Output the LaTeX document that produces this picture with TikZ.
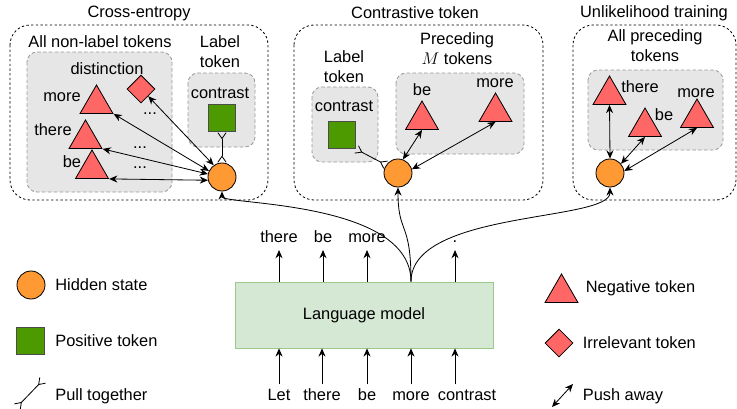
\documentclass[tikz,border=0pt]{standalone}
\usepackage{fontspec}
\setmainfont{Liberation Sans}
\usetikzlibrary{arrows.meta,shapes.geometric,calc}
\definecolor{hidorange}{HTML}{FF9933}
\definecolor{negred}{HTML}{FF6666}
\definecolor{posgreen}{HTML}{4D9900}
\definecolor{boxgray}{HTML}{E6E6E6}
\definecolor{lmgreen}{HTML}{D5E8D4}
\definecolor{lmline}{HTML}{9AC98A}

\begin{document}
\begin{tikzpicture}[x=0.03cm, y=-0.03cm, >={Stealth[length=7pt,width=6pt]},
    font=\fontsize{14}{17}\selectfont, line width=0.7pt,
    hidstate/.style={circle, draw, fill=hidorange, minimum size=0.84cm, inner sep=0pt},
    postok/.style={rectangle, draw=black!70, fill=posgreen, minimum size=0.83cm, inner sep=0pt},
    negtok/.style={regular polygon, regular polygon sides=3, draw, fill=negred, minimum size=1.14cm, inner sep=0pt},
    irrtok/.style={diamond, draw, fill=negred, minimum size=0.84cm, inner sep=0pt},
    outerbox/.style={draw, dash pattern=on 2pt off 2pt, rounded corners=0.6cm},
    graybox/.style={draw=black!40, fill=boxgray, dash pattern=on 3pt off 2pt, rounded corners=0.3cm},
    word/.style={text height=10pt, text depth=3pt},
    pushline/.style={<->},
    pullline/.style={{Straight Barb[reversed,length=5pt,width=7pt]}-{Straight Barb[reversed,length=5pt,width=7pt]}}]
\useasboundingbox (0,0) rectangle (737,408);

% three loss panels
\draw[outerbox](10,25) rectangle (268,200);
\draw[outerbox](294,25) rectangle (543,200);
\draw[outerbox](573,25) rectangle (736,200);
\draw[graybox](27,52) rectangle (172,192);
\draw[graybox](188,73) rectangle (255,147);
\draw[graybox](312,87) rectangle (378,162);
\draw[graybox](396,73) rectangle (524,154);
\draw[graybox](588,70) rectangle (723,150);

\node (ce) at (139,13) {Cross-entropy};
\node (ct) at (415,13) {Contrastive token};
\node (ul) at (654,13) {Unlikelihood training};

% cross-entropy
\node at (100,42) {All non-label tokens};
\node[align=center] at (220,52) {Label\\token};
\node at (220,93) {contrast};
\node[postok] (s1) at (222,118) {};
\node[hidstate] (c1) at (222,177) {};
\node[irrtok] (d1) at (141,89) {};
\node[negtok] (m1) at (96.5,104) {};
\node[negtok] (t1) at (85.5,139) {};
\node[negtok] (b1) at (92,169) {};
\node at (107,69) {distinction};
\node at (62,97) {more};
\node at (53,130) {there};
\node at (72,162) {be};
\node at (150,114) {...};
\node at (140,148) {...};
\node at (140,168) {...};
\draw[pullline](s1.south)--(c1.north);
\draw[pushline](d1.south east)--(c1.125);
\draw[pushline](m1.corner 3)--(c1.155);
\draw[pushline](t1.corner 3)--(c1.168);
\draw[pushline](b1.corner 3)--(c1.193);

% contrastive token
\node[align=center] at (344,67) {Label\\token};
\node at (344,106) {contrast};
\node[postok] (s2) at (342,135) {};
\node[align=center] at (457,49) {Preceding\\$M$ tokens};
\node[negtok] (b2) at (422,120) {};
\node[negtok] (m2) at (495.5,112) {};
\node at (422,90) {be};
\node at (495,83) {more};
\node[hidstate] (c2) at (398,173) {};
\draw[pullline](s2.south east)--(c2.146);
\draw[pushline](b2.south)--(c2.70);
\draw[pushline](m2.south)--(c2.15);

% unlikelihood training
\node[align=center] at (655,46) {All preceding\\tokens};
\node[negtok] (t3) at (609.5,95) {};
\node[negtok] (b3) at (645,127) {};
\node[negtok] (m3) at (697,118) {};
\node at (640,87) {there};
\node at (664,115) {be};
\node at (696,93) {more};
\node[hidstate] (c3) at (610,173) {};
\draw[pushline](t3.south)--(c3.north);
\draw[pushline](b3.south)--(c3.40);
\draw[pushline](m3.south)--(c3.8);

% language model
\node[draw=lmline, fill=lmgreen, minimum width=7.74cm, minimum height=1.98cm] (lm) at (364,315) {Language model};
\foreach \x/\w/\n in {279/Let/i1, 322/there/i2, 367/be/i3, 411/more/i4}
{
    \node[word, below] (\n) at (\x,384) {\w};
    \draw[->](\n.north)--(\n.north |- lm.south);
}
\node[word, below] (i5) at (467,384) {contrast};
\coordinate (i5top) at (455,384);
\draw[->](i5top)--(i5top |- lm.south);
\foreach \x/\w/\n in {279/there/o1, 323/be/o2, 367/more/o3, 455/./o4}
{
    \node[word, above] (\n) at (\x,250) {\w};
    \draw[->](\n.south |- lm.north)--(\n.south);
}
\coordinate (lmtop) at (lm.north -| i4);
\draw[->](lmtop) .. controls (411,200) and (222,205) .. (c1.south);
\draw[->](lmtop) .. controls (411,220) and (398,235) .. (c2.south);
\draw[->](lmtop) .. controls (411,210) and (610,222) .. (c3.south);

% legend
\node[hidstate] (lh) at (31,285) {};
\node[anchor=west] at (51,285) {Hidden state};
\node[postok] (lp) at (30.5,341) {};
\node[anchor=west] at (51,341) {Positive token};
\coordinate (lpa) at (17,407);
\coordinate (lpb) at (43,380);
\draw[pullline](lpa)--(lpb);
\node[anchor=west] at (51,396) {Pull together};
\node[negtok] (ln) at (561.5,293) {};
\node[anchor=west] at (581.5,288) {Negative token};
\node[irrtok] (li) at (559,343) {};
\node[anchor=west] at (578.5,343) {Irrelevant token};
\coordinate (lqa) at (552,407);
\coordinate (lqb) at (573,384);
\draw[pushline](lqa)--(lqb);
\node[anchor=west] at (578.5,396) {Push away};

\end{tikzpicture}
\end{document}
